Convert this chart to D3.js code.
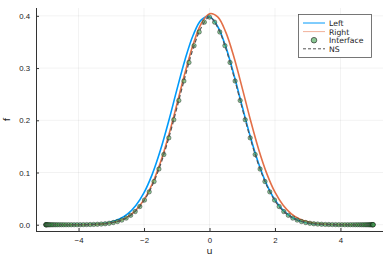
<!doctype html>
<html>
<head>
<meta charset="utf-8">
<style>
  html, body { margin: 0; padding: 0; background: #fff; }
  svg { display: block; font-family: "DejaVu Sans", sans-serif; }
</style>
</head>
<body>
<svg id="chart" width="390" height="260"></svg>
<script src="https://cdn.jsdelivr.net/npm/d3@7"></script>
<script>

// line grid for the Left / Right / NS curves
var uGrid = [-5, -4.75, -4.5, -4.25, -4, -3.75, -3.5, -3.25, -3, -2.75, -2.5, -2.25, -2, -1.75, -1.5, -1.25, -1, -0.75, -0.5, -0.25,
  0, 0.25, 0.5, 0.75, 1, 1.25, 1.5, 1.75, 2, 2.25, 2.5, 2.75, 3, 3.25, 3.5, 3.75, 4, 4.25, 4.5, 4.75, 5];

var leftF = [0, 0, 0, 0.0001, 0.0002, 0.0004, 0.0011, 0.0025, 0.0054, 0.0108, 0.0206, 0.0367, 0.0614, 0.0965, 0.1425, 0.1977, 0.2577, 0.3155, 0.3629, 0.3922,
  0.3981, 0.3796, 0.3401, 0.2862, 0.2263, 0.168, 0.1172, 0.0768, 0.0473, 0.0274, 0.0149, 0.0076, 0.0036, 0.0016, 0.0007, 0.0003, 0.0001, 0, 0, 0, 0];

var rightF = [0, 0, 0, 0, 0.0001, 0.0003, 0.0007, 0.0016, 0.0037, 0.0077, 0.0151, 0.0278, 0.048, 0.078, 0.119, 0.1705, 0.2297, 0.2905, 0.3452, 0.3853,
  0.4041, 0.3981, 0.3683, 0.3202, 0.2616, 0.2007, 0.1446, 0.0979, 0.0623, 0.0373, 0.0209, 0.011, 0.0055, 0.0025, 0.0011, 0.0004, 0.0002, 0.0001, 0, 0, 0];

var nsF = [0, 0, 0, 0, 0.0001, 0.0003, 0.0007, 0.0016, 0.0035, 0.0073, 0.0143, 0.0264, 0.0459, 0.0748, 0.1145, 0.1647, 0.2227, 0.2827, 0.3372, 0.3778,
  0.3977, 0.3778, 0.3372, 0.2827, 0.2227, 0.1647, 0.1145, 0.0748, 0.0459, 0.0264, 0.0143, 0.0073, 0.0035, 0.0016, 0.0007, 0.0003, 0.0001, 0, 0, 0, 0];

// interface nodes (clustered toward the ends)
var uNodes = [-5, -4.998, -4.99, -4.978, -4.961, -4.938, -4.911, -4.88, -4.843, -4.801, -4.755, -4.704, -4.649, -4.589, -4.524, -4.455, -4.382,
  -4.304, -4.222, -4.135, -4.045, -3.951, -3.853, -3.751, -3.645, -3.536, -3.423, -3.307, -3.187, -3.065, -2.939, -2.81, -2.679, -2.545,
  -2.409, -2.27, -2.129, -1.986, -1.841, -1.694, -1.545, -1.395, -1.243, -1.091, -0.937, -0.782, -0.627, -0.471, -0.314, -0.157,
  0, 0.157, 0.314, 0.471, 0.627, 0.782, 0.937, 1.091, 1.243, 1.395, 1.545, 1.694, 1.841, 1.986, 2.129, 2.27, 2.409, 2.545, 2.679,
  2.81, 2.939, 3.065, 3.187, 3.307, 3.423, 3.536, 3.645, 3.751, 3.853, 3.951, 4.045, 4.135, 4.222, 4.304, 4.382, 4.455, 4.524,
  4.589, 4.649, 4.704, 4.755, 4.801, 4.843, 4.88, 4.911, 4.938, 4.961, 4.978, 4.99, 4.998, 5];

var fNodes = [0, 0, 0, 0, 0, 0, 0, 0, 0, 0, 0, 0, 0, 0, 0, 0, 0, 0, 0, 0,
  0.0001, 0.0001, 0.0002, 0.0003, 0.0004, 0.0006, 0.0009, 0.0013, 0.0019, 0.0028, 0.0042, 0.0061, 0.0089, 0.0127,
  0.018, 0.0252, 0.0348, 0.0472, 0.063, 0.0827, 0.1066, 0.1344, 0.1663, 0.201, 0.2379, 0.2752, 0.3107, 0.3428, 0.3691, 0.3879,
  0.3976,
  0.3879, 0.3691, 0.3428, 0.3107, 0.2752, 0.2379, 0.201, 0.1663, 0.1344, 0.1066, 0.0827, 0.063, 0.0472, 0.0348, 0.0252, 0.018,
  0.0127, 0.0089, 0.0061, 0.0042, 0.0028, 0.0019, 0.0013, 0.0009, 0.0006, 0.0004, 0.0003, 0.0002, 0.0001, 0.0001,
  0, 0, 0, 0, 0, 0, 0, 0, 0, 0, 0, 0, 0, 0, 0, 0, 0, 0, 0, 0];

var xTicks = [-4, -2, 0, 2, 4];
var yTicks = [0, 0.1, 0.2, 0.3, 0.4];
var seriesNames = ['Left', 'Right', 'Interface', 'NS'];

var blue = '#009AFA', orange = '#E36F47', green = '#3EA44E', nsColor = '#555555';

var svg = d3.select('#chart');
// plot box (note: "top" is a reserved window property, so use other names)
var plotL = 36, plotR = 383, plotT = 8, plotB = 231;

var x = d3.scaleLinear().domain([-5.3, 5.3]).range([plotL, plotR]);
var y = d3.scaleLinear().domain([-0.012, 0.415]).range([plotB, plotT]);

// grid
svg.append('g').selectAll('line').data(xTicks).enter().append('line')
  .attr('x1', function (d) { return x(d); }).attr('x2', function (d) { return x(d); })
  .attr('y1', plotT).attr('y2', plotB)
  .attr('stroke', '#000').attr('stroke-opacity', 0.1).attr('stroke-width', 0.5);
svg.append('g').selectAll('line').data(yTicks).enter().append('line')
  .attr('y1', function (d) { return y(d); }).attr('y2', function (d) { return y(d); })
  .attr('x1', plotL).attr('x2', plotR)
  .attr('stroke', '#000').attr('stroke-opacity', 0.1).attr('stroke-width', 0.5);

// axes
var xAxis = d3.axisBottom(x).tickValues(xTicks).tickSize(-3).tickPadding(6)
  .tickFormat(function (d) { return d < 0 ? '\u2212' + Math.abs(d) : d; });
var yAxis = d3.axisLeft(y).tickValues(yTicks).tickSize(-3).tickPadding(6)
  .tickFormat(d3.format('.1f'));

var gx = svg.append('g').attr('transform', 'translate(0,' + plotB + ')').call(xAxis);
var gy = svg.append('g').attr('transform', 'translate(' + plotL + ',0)').call(yAxis);
gx.select('.domain').attr('d', 'M' + plotL + ',0.5H' + plotR);
gy.select('.domain').attr('d', 'M0.5,' + plotB + 'V' + plotT);
[gx, gy].forEach(function (g) {
  g.select('.domain').attr('stroke', '#333').attr('stroke-width', 1);
  g.selectAll('.tick line').attr('stroke', '#333');
  g.selectAll('.tick text').attr('fill', '#222').style('font-size', '7.8px');
});

svg.append('text').attr('x', (plotL + plotR) / 2).attr('y', 254)
  .attr('text-anchor', 'middle').attr('fill', '#222').style('font-size', '9.5px').text('u');
svg.append('text').attr('transform', 'translate(9.5,' + ((plotT + plotB) / 2) + ') rotate(-90)')
  .attr('text-anchor', 'middle').attr('fill', '#222').style('font-size', '9.5px').text('f');

// curves
var line = d3.line()
  .x(function (d) { return x(d[0]); })
  .y(function (d) { return y(d[1]); })
  .curve(d3.curveCatmullRom);

svg.append('path').datum(d3.zip(uGrid, leftF)).attr('d', line)
  .attr('fill', 'none').attr('stroke', blue).attr('stroke-width', 1.6);
svg.append('path').datum(d3.zip(uGrid, rightF)).attr('d', line)
  .attr('fill', 'none').attr('stroke', orange).attr('stroke-width', 1.6);

svg.append('g').selectAll('circle').data(d3.zip(uNodes, fNodes)).enter().append('circle')
  .attr('cx', function (d) { return x(d[0]); })
  .attr('cy', function (d) { return y(d[1]); })
  .attr('r', 2.2)
  .attr('fill', green).attr('fill-opacity', 0.6)
  .attr('stroke', '#1a1a1a').attr('stroke-opacity', 0.7).attr('stroke-width', 0.6);

svg.append('path').datum(d3.zip(uGrid, nsF)).attr('d', line)
  .attr('fill', 'none').attr('stroke', nsColor).attr('stroke-width', 1.2)
  .attr('stroke-dasharray', '4,2.5');

// legend
var lg = svg.append('g').attr('transform', 'translate(298,14)');
lg.append('rect').attr('x', 0.5).attr('y', 0.5).attr('width', 73).attr('height', 43)
  .attr('fill', '#fff').attr('stroke', '#555').attr('stroke-width', 0.8);
seriesNames.forEach(function (name, i) {
  var yy = 9 + i * 8.6;
  if (name === 'Interface') {
    lg.append('circle').attr('cx', 16).attr('cy', yy).attr('r', 2.8)
      .attr('fill', green).attr('fill-opacity', 0.6).attr('stroke', '#1a1a1a').attr('stroke-width', 0.6);
  } else {
    lg.append('line').attr('x1', 5).attr('x2', 27).attr('y1', yy).attr('y2', yy)
      .attr('stroke', name === 'Left' ? blue : name === 'Right' ? orange : nsColor)
      .attr('stroke-opacity', name === 'Right' ? 0.55 : 1)
      .attr('stroke-width', 1)
      .attr('stroke-dasharray', name === 'NS' ? '3,2' : null);
  }
  lg.append('text').attr('x', 31).attr('y', yy + 3).attr('fill', '#222')
    .style('font-size', '7.7px').text(name);
});

</script>
</body>
</html>
